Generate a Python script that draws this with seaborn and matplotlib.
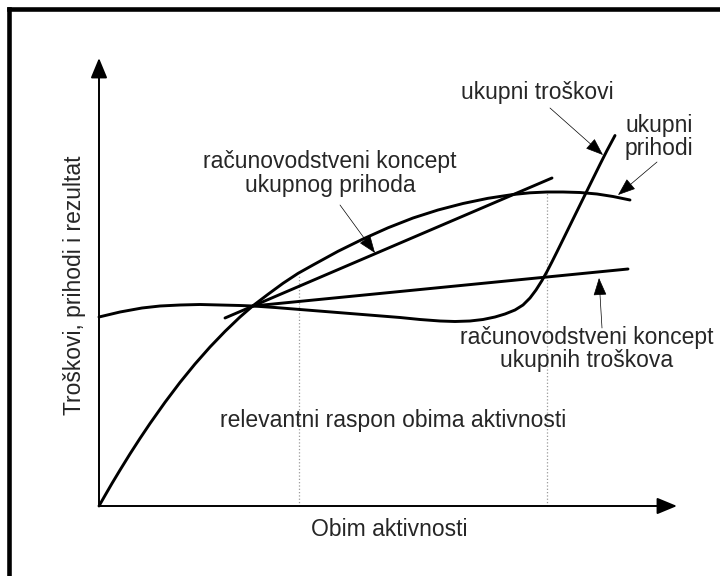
import numpy as np
import pandas as pd
import seaborn as sns
import matplotlib.pyplot as plt
from matplotlib.lines import Line2D

# values (arbitrary units, activity vs. amount)
rev_x = [0.00, 0.12, 0.26, 0.42, 0.62, 0.82, 1.02, 1.32, 1.62, 1.92, 2.22, 2.52, 2.82, 3.08,
         3.38, 3.68, 3.98, 4.28, 4.78, 5.28, 5.78, 6.28, 6.78, 7.28, 7.78, 8.28, 8.62, 8.96,
         9.28, 9.62, 9.96, 10.28, 10.62]
rev_y = [0.000, 0.210, 0.452, 0.718, 1.042, 1.352, 1.650, 2.074, 2.472, 2.840, 3.180, 3.492,
         3.780, 4.006, 4.234, 4.454, 4.652, 4.820, 5.094, 5.340, 5.564, 5.760, 5.920, 6.050,
         6.154, 6.230, 6.264, 6.280, 6.280, 6.270, 6.240, 6.190, 6.120]

cost_x = [0.00, 0.42, 0.86, 1.22, 1.62, 2.02, 2.42, 2.82, 3.08, 3.52, 4.02, 4.52, 5.02, 5.52,
          6.02, 6.42, 6.82, 7.12, 7.42, 7.68, 7.92, 8.12, 8.32, 8.48, 8.62, 8.74, 8.86, 8.96,
          9.06, 9.16, 9.28, 9.38, 9.48, 9.60, 9.72, 9.86, 10.02, 10.16, 10.32]
cost_y = [3.78, 3.88, 3.96, 4.00, 4.02, 4.03, 4.02, 4.01, 4.00, 3.97, 3.93, 3.89, 3.85, 3.81,
          3.77, 3.73, 3.70, 3.69, 3.70, 3.73, 3.78, 3.84, 3.92, 4.02, 4.16, 4.32, 4.51, 4.69,
          4.884, 5.084, 5.328, 5.532, 5.736, 5.98, 6.224, 6.508, 6.832, 7.11, 7.41]

acc_rev_x = [2.52, 9.06]
acc_rev_y = [3.76, 6.56]
acc_cost_x = [3.08, 10.58]
acc_cost_y = [4.00, 4.74]

range_x = [4.0, 8.96]
range_top = [4.62, 6.26]

x_end = 11.56
y_end = 8.96

sns.set_theme(style='white')
plt.rcParams['font.family'] = ['Liberation Sans', 'DejaVu Sans']

fig = plt.figure(figsize=(7.2, 5.76), dpi=100)
ax = fig.add_axes([0, 0, 1, 1])
ax.set_xlim(-1.98, 12.42)
ax.set_ylim(-1.4, 10.12)
ax.axis('off')

# relevant range (dotted)
for xv, top in zip(range_x, range_top):
    ax.plot([xv, xv], [0, top], ls=':', color='#9a9a9a', lw=0.9)

# curves
curves = [(rev_x, rev_y), (cost_x, cost_y), (acc_rev_x, acc_rev_y), (acc_cost_x, acc_cost_y)]
for cx, cy in curves:
    sns.lineplot(x=cx, y=cy, sort=False, estimator=None, color='black', lw=2.1, ax=ax)

# axes with arrow heads
axis_arrow = dict(arrowstyle='-|>,head_length=0.87,head_width=0.36', color='black', lw=1.4,
                  shrinkA=0, shrinkB=0, mutation_scale=14)
ax.annotate('', xy=(0, y_end), xytext=(0, 0), arrowprops=axis_arrow)
ax.annotate('', xy=(x_end, 0), xytext=(0, 0), arrowprops=axis_arrow)

fs = 16.5
ax.text(5.81, -0.48, 'Obim aktivnosti', ha='center', va='center', fontsize=fs)
ax.text(-0.48, 4.42, 'Troškovi, prihodi i rezultat', ha='center', va='center', rotation=90, fontsize=fs)
ax.text(5.89, 1.70, 'relevantni raspon obima aktivnosti', ha='center', va='center', fontsize=fs)

# labels with pointer arrows
ptr = dict(arrowstyle='-|>,head_length=0.8,head_width=0.3', color='black', lw=0.5,
           shrinkA=0, shrinkB=0, mutation_scale=14)
labels = [
    ('ukupni troškovi', (8.77, 8.26), (9.02, 7.96), (10.08, 7.02)),
    ('ukupni\nprihodi', (11.20, 7.38), (11.16, 6.88), (10.38, 6.22)),
    ('računovodstveni koncept\nukupnog prihoda', (4.62, 6.65), (4.82, 6.02), (5.52, 5.06)),
    ('računovodstveni koncept\nukupnih troškova', (9.76, 3.14), (10.06, 3.56), (10.00, 4.56)),
]
for txt, tpos, start, tip in labels:
    ax.text(tpos[0], tpos[1], txt, ha='center', va='center', fontsize=fs, linespacing=1.05)
    ax.annotate('', xy=tip, xytext=start, arrowprops=ptr)

# frame (only top and left edges are visible in the picture)
fig.add_artist(Line2D([9 / 720, 9 / 720], [0, 1 - 9 / 576], color='black', lw=3.3,
                      solid_capstyle='projecting'))
fig.add_artist(Line2D([9 / 720, 1], [1 - 9 / 576, 1 - 9 / 576], color='black', lw=3.3,
                      solid_capstyle='projecting'))

fig.savefig('out.png', dpi=100, facecolor='white')
